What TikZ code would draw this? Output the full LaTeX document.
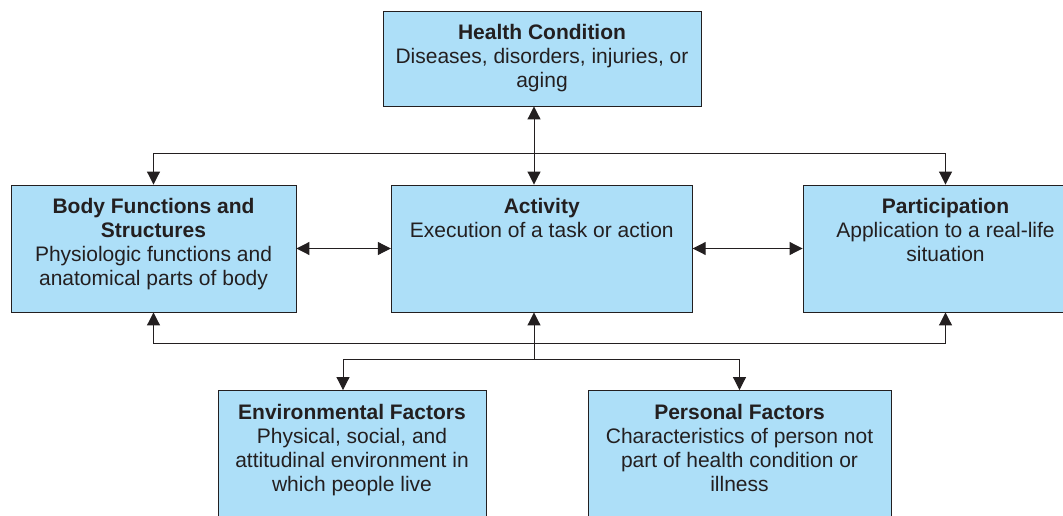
\documentclass[tikz,border=0pt]{standalone}
\usepackage{fontspec}
\setmainfont{Liberation Sans}
\usetikzlibrary{arrows.meta}
\definecolor{boxblue}{RGB}{173,223,248}
\definecolor{inkgrey}{RGB}{35,31,32}
\newcommand{\boxtext}[4]{\parbox[c][#2pt][t]{#1pt}{\centering\vspace*{13.5pt}\textbf{#3}\\#4}}
\begin{document}
\begin{tikzpicture}[x=1pt,y=-1pt,
    box/.style={draw=inkgrey, fill=boxblue, line width=0.9pt, inner sep=0pt,
      text=inkgrey, font=\fontsize{21}{24}\selectfont},
    link/.style={draw=inkgrey, line width=1pt, -{Triangle[length=13pt,width=13pt]}},
    dlink/.style={link, {Triangle[length=13pt,width=13pt]}-{Triangle[length=13pt,width=13pt]}}]
    \useasboundingbox (0,0) rectangle (1063,516);
    \clip (0,0) rectangle (1063,516);
    % Boxes
    \node[box] (hc) at (542,58.5) {\boxtext{318}{95}{Health Condition}{Diseases, disorders, injuries, or\\aging}};
    \node[box] (body) at (153.5,248.5) {\boxtext{285}{127}{Body Functions and\\Structures}{Physiologic functions and\\anatomical parts of body}};
    \node[box] (act) at (541.75,248.5) {\boxtext{301}{127}{Activity}{Execution of a task or action}};
    \node[box] (part) at (945.5,248.5) {\boxtext{285}{127}{Participation}{Application to a real-life\\situation}};
    \node[box] (env) at (352,460.5) {\boxtext{268}{140}{Environmental Factors}{Physical, social, and\\attitudinal environment in\\which people live}};
    \node[box] (pers) at (739.5,460.5) {\boxtext{303}{140}{Personal Factors}{Characteristics of person not\\part of health condition or\\illness}};
    % Upper links
    \coordinate (topbus) at (534,154);
    \draw[dlink] ([xshift=-8pt]hc.south) -- ([xshift=-7.75pt]act.north);
    \draw[link] (topbus) -| (body.north);
    \draw[link] (topbus) -| (part.north);
    \draw[dlink] (body.east) -- (act.west);
    \draw[dlink] (act.east) -- (part.west);
    % Lower links
    \coordinate (botbus) at (534,343);
    \coordinate (fork) at (534,359);
    \draw[link] (botbus) -| (body.south);
    \draw[link] (botbus) -| (part.south);
    \draw[link] (botbus) -- ([xshift=-7.75pt]act.south);
    \draw[draw=inkgrey, line width=1pt] (botbus) -- (fork);
    \draw[link] (fork) -| ([xshift=-9pt]env.north);
    \draw[link] (fork) -| (pers.north);
\end{tikzpicture}
\end{document}
